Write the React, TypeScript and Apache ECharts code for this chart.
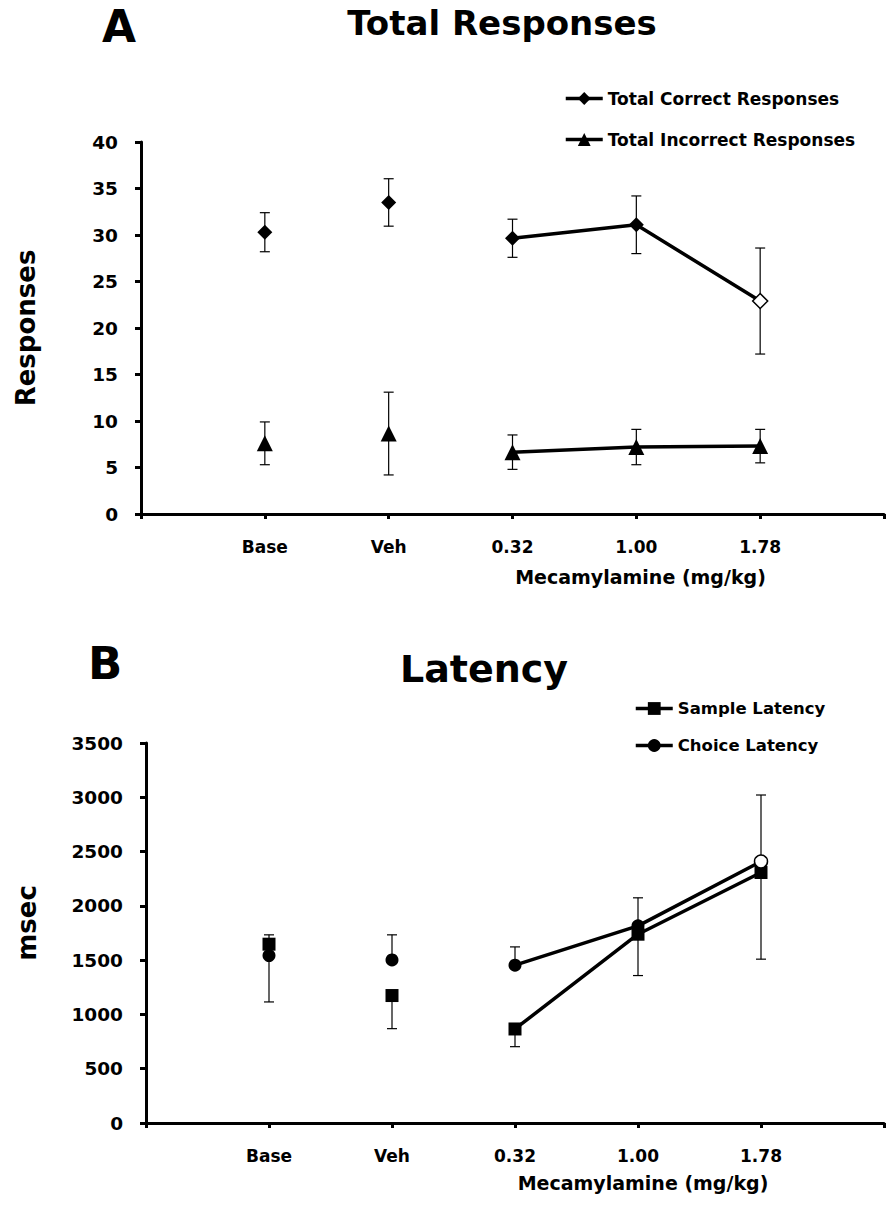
import React, { useEffect, useRef } from "react";
import * as echarts from "echarts";

// ---- data ----
const xLabels = ["Base", "Veh", "0.32", "1.00", "1.78"];
const xPos = [1, 2, 3, 4, 5];
const doseIdx = [2, 3, 4];
const ctrlIdx = [0, 1];

const correctMeans = [30.3, 33.5, 29.65, 31.1, 22.9];
const correctSEM = [2.1, 2.55, 2.05, 3.1, 5.7];
const incorrectMeans = [7.6, 8.65, 6.65, 7.2, 7.3];
const incorrectSEM = [2.3, 4.45, 1.85, 1.9, 1.8];

const sampleMeans = [1647, 1174, 866, 1739, 2307];
const sampleErrDown = [532, 305, 163, 381, 798];
const choiceMeans = [1542, 1502, 1454, 1816, 2409];
const choiceErrUp = [191, 231, 168, 258, 612];

const zeros = [0, 0, 0, 0, 0];

const FONT = "DejaVu Sans";
const BLACK = "#000";

function pts(means: number[], idxs: number[], openIndex: number) {
  return idxs.map((i) =>
    i === openIndex
      ? {
          value: [xPos[i], means[i]],
          itemStyle: { color: "#fff", borderColor: BLACK, borderWidth: 1.5, opacity: 1 },
        }
      : [xPos[i], means[i]]
  );
}

function errSeries(means: number[], down: number[], up: number[], ai: number) {
  const data = means.map((m, i) => [xPos[i], m, m - down[i], m + up[i]]);
  return {
    type: "custom",
    xAxisIndex: ai,
    yAxisIndex: ai,
    z: 1,
    silent: true,
    data,
    encode: { x: 0, y: [1, 2, 3] },
    renderItem: (params: any, api: any) => {
      const x = api.value(0);
      const m = api.value(1);
      const lo = api.value(2);
      const hi = api.value(3);
      const c = api.coord([x, m]);
      const style = { stroke: BLACK, lineWidth: 1.2 };
      const w = 5;
      const children: any[] = [];
      if (hi > m) {
        const t = api.coord([x, hi]);
        children.push({ type: "line", shape: { x1: c[0], y1: c[1], x2: t[0], y2: t[1] }, style });
        children.push({ type: "line", shape: { x1: t[0] - w, y1: t[1], x2: t[0] + w, y2: t[1] }, style });
      }
      if (lo < m) {
        const b = api.coord([x, lo]);
        children.push({ type: "line", shape: { x1: c[0], y1: c[1], x2: b[0], y2: b[1] }, style });
        children.push({ type: "line", shape: { x1: b[0] - w, y1: b[1], x2: b[0] + w, y2: b[1] }, style });
      }
      return { type: "group", children };
    },
  };
}

function markSeries(name: string, means: number[], symbol: string, size: number, ai: number, openIndex: number) {
  return [
    {
      name: name + " (control)",
      type: "scatter",
      xAxisIndex: ai,
      yAxisIndex: ai,
      symbol,
      symbolSize: size,
      z: 3,
      itemStyle: { color: BLACK, opacity: 1 },
      data: pts(means, ctrlIdx, -1),
    },
    {
      name,
      type: "line",
      xAxisIndex: ai,
      yAxisIndex: ai,
      symbol,
      symbolSize: size,
      z: 3,
      lineStyle: { color: BLACK, width: 3.5 },
      itemStyle: { color: BLACK, opacity: 1 },
      data: pts(means, doseIdx, openIndex),
    },
  ];
}

function xAxisCfg(gi: number, nameGap: number) {
  return {
    type: "value",
    gridIndex: gi,
    min: 0,
    max: 6,
    interval: 1,
    axisLine: { show: true, onZero: false, lineStyle: { color: BLACK, width: 3 } },
    axisTick: { show: true, length: 5, lineStyle: { color: BLACK, width: 3 } },
    splitLine: { show: false },
    axisLabel: {
      formatter: (v: number) => xLabels[v - 1] ?? "",
      margin: 24,
      fontSize: 17,
      fontWeight: "bold",
      fontFamily: FONT,
      color: BLACK,
    },
    name: "Mecamylamine (mg/kg)",
    nameLocation: "middle",
    nameGap,
    nameTextStyle: {
      fontSize: 19,
      fontWeight: "bold",
      fontFamily: FONT,
      color: BLACK,
      padding: [0, 0, 0, 256],
    },
  };
}

function yAxisCfg(gi: number, max: number, interval: number, name: string, nameGap: number, namePad: number[]) {
  return {
    type: "value",
    gridIndex: gi,
    min: 0,
    max,
    interval,
    axisLine: { show: true, onZero: false, lineStyle: { color: BLACK, width: 3 } },
    axisTick: { show: true, length: 6, lineStyle: { color: BLACK, width: 3 } },
    splitLine: { show: false },
    axisLabel: {
      formatter: (v: number) => String(v),
      margin: 23,
      fontSize: 18.5,
      fontWeight: "bold",
      fontFamily: FONT,
      color: BLACK,
    },
    name,
    nameLocation: "middle",
    nameGap,
    nameTextStyle: { fontSize: 26, fontWeight: "bold", fontFamily: FONT, color: BLACK, padding: namePad },
  };
}

export default function App() {
  const ref = useRef<HTMLDivElement>(null);
  useEffect(() => {
    if (!ref.current) return;
    const chart = echarts.init(ref.current, null, { renderer: "svg" });
    const titleStyle = (size: number) => ({
      fontSize: size,
      fontWeight: "bold" as const,
      fontFamily: FONT,
      color: BLACK,
    });
    const legendCommon = {
      orient: "vertical",
      itemWidth: 37,
      itemHeight: 16,
      padding: 0,
      lineStyle: { width: 3.5 },
    };
    chart.setOption({
      animation: false,
      backgroundColor: "#fff",
      title: [
        { text: "A", left: 102, top: 4, textStyle: titleStyle(44), padding: 0 },
        { text: "Total Responses", left: 502, top: 6, textAlign: "center", textStyle: titleStyle(34), padding: 0 },
        { text: "B", left: 88, top: 641, textStyle: titleStyle(45), padding: 0 },
        { text: "Latency", left: 484, top: 650, textAlign: "center", textStyle: titleStyle(38), padding: 0 },
      ],
      legend: [
        {
          ...legendCommon,
          data: ["Total Correct Responses", "Total Incorrect Responses"],
          left: 564,
          top: 90,
          itemGap: 24,
          textStyle: { fontSize: 17, fontWeight: "bold", fontFamily: FONT, color: BLACK },
        },
        {
          ...legendCommon,
          data: ["Sample Latency", "Choice Latency"],
          left: 634,
          top: 700,
          itemGap: 20,
          textStyle: { fontSize: 16.5, fontWeight: "bold", fontFamily: FONT, color: BLACK },
        },
      ],
      grid: [
        { left: 141, top: 142, width: 752, height: 372 },
        { left: 146, top: 743, width: 746, height: 380 },
      ],
      xAxis: [xAxisCfg(0, 53), xAxisCfg(1, 50)],
      yAxis: [
        yAxisCfg(0, 40, 5, "Responses", 102, [0, 0, 0, 0]),
        yAxisCfg(1, 3500, 500, "msec", 106, [0, 0, 0, 20]),
      ],
      series: [
        errSeries(correctMeans, correctSEM, correctSEM, 0),
        errSeries(incorrectMeans, incorrectSEM, incorrectSEM, 0),
        errSeries(sampleMeans, sampleErrDown, zeros, 1),
        errSeries(choiceMeans, zeros, choiceErrUp, 1),
        ...markSeries("Total Correct Responses", correctMeans, "diamond", 15, 0, 4),
        ...markSeries("Total Incorrect Responses", incorrectMeans, "triangle", 16, 0, -1),
        ...markSeries("Sample Latency", sampleMeans, "rect", 13, 1, -1),
        ...markSeries("Choice Latency", choiceMeans, "circle", 13, 1, 4),
      ],
    });
    return () => chart.dispose();
  }, []);
  return (
    <div
      ref={ref}
      style={{ position: "absolute", left: 0, top: 0, width: 887, height: 1205, background: "#fff" }}
    />
  );
}
